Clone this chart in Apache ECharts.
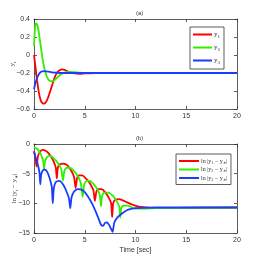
<!DOCTYPE html>
<html><head><meta charset="utf-8">
<script src="https://cdn.jsdelivr.net/npm/echarts@6/dist/echarts.min.js"></script>
<style>html,body{margin:0;padding:0;background:#fff}#c{width:262px;height:262px}</style>
</head><body><div id="c"></div>
<script>
// Panel (a): outputs y_i
const tTop = [0,0.1,0.2,0.3,0.4,0.5,0.6,0.7,0.8,0.9,1.0,1.2,1.4,1.6,1.8,2.0,2.2,2.4,2.6,2.8,3.0,3.2,3.5,4.0,4.5,5.0,6,8,10,15,20];
const y1 = [0,-0.09,-0.19,-0.28,-0.36,-0.43,-0.48,-0.515,-0.53,-0.54,-0.54,-0.52,-0.47,-0.40,-0.33,-0.26,-0.21,-0.18,-0.165,-0.16,-0.165,-0.175,-0.19,-0.205,-0.21,-0.205,-0.2,-0.2,-0.2,-0.2,-0.2];
const y2 = [0.1,0.3,0.35,0.34,0.3,0.23,0.15,0.07,-0.01,-0.08,-0.14,-0.22,-0.27,-0.29,-0.29,-0.28,-0.26,-0.24,-0.22,-0.205,-0.196,-0.19,-0.187,-0.191,-0.197,-0.2,-0.2,-0.2,-0.2,-0.2,-0.2];
const y3 = [-0.38,-0.33,-0.29,-0.255,-0.23,-0.21,-0.195,-0.187,-0.183,-0.181,-0.18,-0.181,-0.184,-0.188,-0.192,-0.195,-0.197,-0.199,-0.2,-0.2,-0.2,-0.2,-0.2,-0.2,-0.2,-0.2,-0.2,-0.2,-0.2,-0.2,-0.2];
// Panel (b): log errors
const tRed = [0,0.1,0.25,0.4,0.6,0.85,1.1,1.4,1.7,1.95,2.15,2.25,2.35,2.55,2.9,3.3,3.7,3.95,4.1,4.25,4.45,4.75,5.1,5.5,5.85,6.0,6.15,6.35,6.65,7.0,7.35,7.6,7.7,7.8,8.0,8.4,8.9,9.5,10.2,11,12,14,20];
const lnRed = [-1.2,-2.0,-3.8,-2.0,-1.3,-1.0,-1.1,-1.5,-2.2,-3.0,-4.0,-5.8,-4.0,-3.4,-3.3,-3.6,-4.6,-5.6,-7.4,-5.7,-5.3,-5.3,-5.8,-6.6,-7.8,-9.6,-8.0,-7.6,-7.6,-8.1,-9.0,-10.0,-12.3,-10.0,-9.4,-9.3,-9.6,-10.1,-10.5,-10.7,-10.8,-10.75,-10.7];
const tGreen = [0,0.3,0.6,0.8,0.92,1.0,1.08,1.25,1.5,1.8,2.2,2.5,2.7,2.85,3.0,3.2,3.5,3.9,4.3,4.6,4.8,4.95,5.2,5.5,5.9,6.3,6.5,6.6,6.7,6.9,7.3,7.8,8.2,8.4,8.5,8.6,8.8,9.2,9.8,10.5,12,20];
const lnGreen = [-0.5,-0.8,-1.5,-2.3,-3.0,-4.2,-3.0,-2.3,-2.0,-2.2,-2.9,-3.6,-4.3,-6.2,-4.5,-4.0,-4.0,-4.5,-5.4,-6.5,-8.9,-6.8,-6.2,-6.2,-6.8,-7.8,-8.8,-10.5,-8.8,-8.2,-8.2,-8.8,-9.8,-10.6,-12.4,-10.8,-10.4,-10.4,-10.8,-10.9,-10.8,-10.7];
const tBlue = [0,0.15,0.3,0.45,0.55,0.62,0.7,0.85,1.05,1.3,1.55,1.75,1.85,1.95,2.15,2.5,2.9,3.2,3.45,3.57,3.7,3.95,4.3,4.8,5.3,5.8,6.3,6.6,6.8,7.0,7.2,7.45,7.65,7.75,7.9,8.2,8.6,9.1,9.7,10.5,12,20];
const lnBlue = [-1.3,-2.2,-3.0,-4.0,-5.0,-6.8,-5.2,-4.5,-4.3,-4.7,-5.8,-7.2,-10.0,-7.5,-6.4,-6.2,-6.9,-8.0,-9.2,-10.8,-9.0,-8.0,-7.6,-7.8,-8.8,-10.3,-12.3,-13.6,-13.8,-13.3,-13.2,-13.8,-14.5,-14.8,-13.3,-12.4,-11.8,-11.2,-10.9,-10.75,-10.7,-10.7];
const xTicks = {min:0, max:20, interval:5};
const topNames = ['y1','y2','y3'];
const botNames = ['e1','e2','e3'];
const colors = ['#ff0000','#33ee00','#1a3cff'];

const pair = (t, v) => t.map((x, i) => [x, v[i]]);
const fmtY = v => (Math.abs(v) < 1e-9 ? '0' : (Math.round(v*10)/10).toString().replace('-', '−'));
const axisColor = '#333';
const lab = {fontSize:7, color:'#333', fontFamily:'Liberation Sans'};
const serif = 'Liberation Serif';
function xa(grid, pos, showLab, extra) {
  return Object.assign({type:'value', gridIndex:grid, position:pos, min:xTicks.min, max:xTicks.max, interval:xTicks.interval,
    axisLine:{show:true, onZero:false, lineStyle:{color:axisColor, width:0.8}},
    axisTick:{show:true, inside:true, length:3, lineStyle:{color:axisColor, width:0.8}},
    axisLabel:{show:showLab, margin:4, ...lab}, splitLine:{show:false}}, extra||{});
}
function ya(grid, pos, showLab, min, max, interval, extra) {
  return Object.assign({type:'value', gridIndex:grid, position:pos, min:min, max:max, interval:interval,
    axisLine:{show:true, onZero:false, lineStyle:{color:axisColor, width:0.8}},
    axisTick:{show:true, inside:true, length:3, lineStyle:{color:axisColor, width:0.8}},
    axisLabel:{show:showLab, margin:4, formatter:fmtY, ...lab}, splitLine:{show:false}}, extra||{});
}
const subRich = {
  n:{fontSize:7, color:'#333', fontFamily:serif},
  s:{fontSize:5, color:'#333', fontFamily:serif, padding:[4,0,0,0]}
};
const legRich = {
  n:{fontSize:7, color:'#333', fontFamily:serif},
  s:{fontSize:5, color:'#333', fontFamily:serif, padding:[4,0,0,0]}
};
const legRich2 = {
  n:{fontSize:6, color:'#333', fontFamily:serif},
  s:{fontSize:4, color:'#333', fontFamily:serif, padding:[3,0,0,0]}
};
const chart = echarts.init(document.getElementById('c'), null, {renderer:'canvas'});
chart.setOption({
  animation:false,
  backgroundColor:'#fff',
  title:[
    {text:'(a)', left:131, top:5, textStyle:{fontSize:6, fontWeight:'normal', color:'#333', fontFamily:'Liberation Sans'}},
    {text:'(b)', left:131, top:130, textStyle:{fontSize:6, fontWeight:'normal', color:'#333', fontFamily:'Liberation Sans'}}
  ],
  grid:[
    {left:34, right:25, top:19, height:90, outerBoundsMode:'none', containLabel:false},
    {left:34, right:25, top:144, height:89, outerBoundsMode:'none', containLabel:false}
  ],
  xAxis:[
    xa(0,'bottom',true), xa(0,'top',false),
    xa(1,'bottom',true,{name:'Time [sec]', nameLocation:'middle', nameGap:14, nameMoveOverlap:false, nameTextStyle:{fontSize:7, color:'#333', fontFamily:'Liberation Sans'}}),
    xa(1,'top',false)
  ],
  yAxis:[
    ya(0,'left',true,-0.6,0.4,0.2,{name:'y{s|i}', nameLocation:'middle', nameGap:17, nameMoveOverlap:false, nameTextStyle:{fontSize:7, color:'#333', fontFamily:serif, rich:subRich}}),
    ya(0,'right',false,-0.6,0.4,0.2),
    ya(1,'left',true,-15,0,5,{name:'ln |y{s|i} − y{s|∗}|', nameLocation:'middle', nameGap:15, nameMoveOverlap:false, nameTextStyle:{fontSize:7, color:'#333', fontFamily:serif, rich:subRich}}),
    ya(1,'right',false,-15,0,5)
  ],
  legend:[
    {data:topNames, left:190, top:27, orient:'vertical', icon:'rect', itemWidth:19, itemHeight:2, itemGap:5,
     padding:[4,4,4,3], borderColor:'#333', borderWidth:0.8, backgroundColor:'#fff',
     formatter: n => '{n|y}{s|' + n.slice(1) + '}',
     textStyle:{fontSize:7, color:'#333', fontFamily:serif, padding:[0,0,0,-3], rich:legRich}},
    {data:botNames, left:176, top:154, orient:'vertical', icon:'rect', itemWidth:20, itemHeight:2, itemGap:2,
     padding:[4,4,3,3], borderColor:'#333', borderWidth:0.8, backgroundColor:'#fff',
     formatter: n => '{n|ln |y}{s|' + n.slice(1) + '}{n| − y}{s|∗}{n||}',
     textStyle:{fontSize:6, color:'#333', fontFamily:serif, padding:[0,0,0,-3], rich:legRich2}}
  ],
  series:[
    {name:topNames[0], type:'line', xAxisIndex:0, yAxisIndex:0, data:pair(tTop,y1), showSymbol:false, smooth:0.3, lineStyle:{width:1.8, color:colors[0]}, itemStyle:{color:colors[0]}},
    {name:topNames[1], type:'line', xAxisIndex:0, yAxisIndex:0, data:pair(tTop,y2), showSymbol:false, smooth:0.3, lineStyle:{width:1.8, color:colors[1]}, itemStyle:{color:colors[1]}},
    {name:topNames[2], type:'line', xAxisIndex:0, yAxisIndex:0, data:pair(tTop,y3), showSymbol:false, smooth:0.3, lineStyle:{width:1.8, color:colors[2]}, itemStyle:{color:colors[2]}},
    {name:botNames[0], type:'line', xAxisIndex:2, yAxisIndex:2, data:pair(tRed,lnRed), showSymbol:false, smooth:0.2, lineStyle:{width:1.8, color:colors[0]}, itemStyle:{color:colors[0]}},
    {name:botNames[1], type:'line', xAxisIndex:2, yAxisIndex:2, data:pair(tGreen,lnGreen), showSymbol:false, smooth:0.2, lineStyle:{width:1.8, color:colors[1]}, itemStyle:{color:colors[1]}},
    {name:botNames[2], type:'line', xAxisIndex:2, yAxisIndex:2, data:pair(tBlue,lnBlue), showSymbol:false, smooth:0.2, lineStyle:{width:1.8, color:colors[2]}, itemStyle:{color:colors[2]}}
  ]
});
</script></body></html>
